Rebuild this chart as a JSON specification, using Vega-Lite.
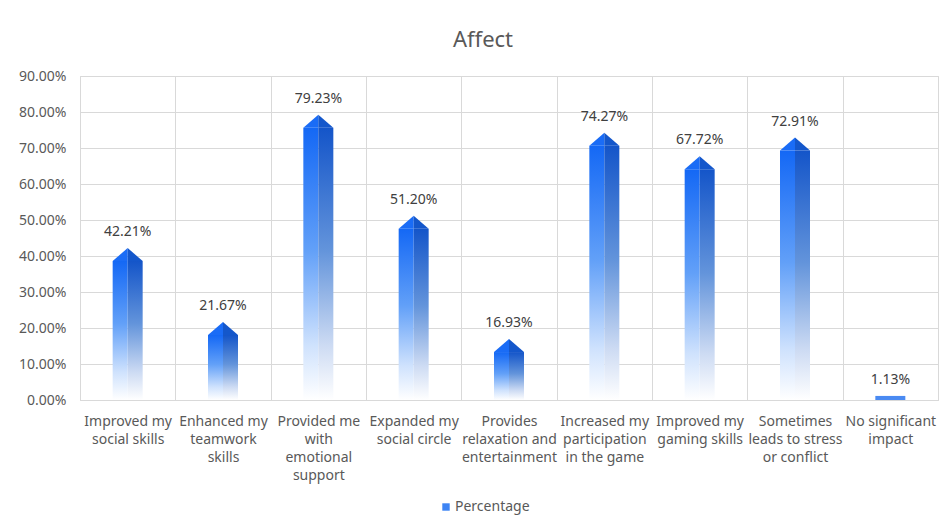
{
  "$schema": "https://vega.github.io/schema/vega-lite/v6.json",
  "autosize": "none",
  "width": 858,
  "height": 324,
  "padding": {"left": 80, "top": 76, "right": 14, "bottom": 126},
  "background": "white",
  "title": {"text": "Affect", "fontSize": 22, "font": "Noto Sans", "fontWeight": "normal", "color": "#595959", "offset": 17, "dx": -26, "anchor": "middle"},
  "config": {
    "view": {"stroke": "#d9d9d9"},
    "font": "Noto Sans",
    "axis": {"labelFont": "Noto Sans", "labelFontSize": 14, "labelColor": "#595959", "gridColor": "#d9d9d9", "domainColor": "#d9d9d9", "ticks": false, "title": null}
  },
  "data": {"values": [
    {"category": "Improved my|social skills", "value": 0.4221, "series": "Percentage"},
    {"category": "Enhanced my|teamwork|skills", "value": 0.2167, "series": "Percentage"},
    {"category": "Provided me|with|emotional|support", "value": 0.7923, "series": "Percentage"},
    {"category": "Expanded my|social circle", "value": 0.5120, "series": "Percentage"},
    {"category": "Provides|relaxation and|entertainment", "value": 0.1693, "series": "Percentage"},
    {"category": "Increased my|participation|in the game", "value": 0.7427, "series": "Percentage"},
    {"category": "Improved my|gaming skills", "value": 0.6772, "series": "Percentage"},
    {"category": "Sometimes|leads to stress|or conflict", "value": 0.7291, "series": "Percentage"},
    {"category": "No significant|impact", "value": 0.0113, "series": "Percentage"}
  ]},
  "encoding": {
    "x": {"field": "category", "type": "nominal", "sort": null,
      "scale": {"paddingInner": 0, "paddingOuter": 0},
      "axis": {"labelAngle": 0, "labelExpr": "split(datum.label, '|')", "labelLineHeight": 18, "labelPadding": 14, "grid": true, "tickBand": "extent", "labelBaseline": "top"}},
    "y": {"field": "value", "type": "quantitative", "stack": null,
      "scale": {"domain": [0, 0.9]},
      "axis": {"format": ".2%", "values": [0, 0.1, 0.2, 0.3, 0.4, 0.5, 0.6, 0.7, 0.8, 0.9], "labelPadding": 14, "domain": false}}
  },
  "layer": [
    {
      "transform": [{"filter": "datum.value > 0.05"}],
      "mark": {"type": "bar", "width": 15, "xOffset": -7.5, "yOffset": 13,
        "fill": {"gradient": "linear", "x1": 0, "y1": 0, "x2": 0, "y2": 1,
          "stops": [{"offset": 0, "color": "#1468f5"}, {"offset": 0.45, "color": "#62a0f8"}, {"offset": 0.8, "color": "#cfe2fd"}, {"offset": 1, "color": "#ffffff"}]}}
    },
    {
      "transform": [{"filter": "datum.value > 0.05"}],
      "mark": {"type": "bar", "width": 15, "xOffset": 7.5, "yOffset": 13,
        "fill": {"gradient": "linear", "x1": 0, "y1": 0, "x2": 0, "y2": 1,
          "stops": [{"offset": 0, "color": "#1455c9"}, {"offset": 0.45, "color": "#6394db"}, {"offset": 0.8, "color": "#cddbf3"}, {"offset": 1, "color": "#ffffff"}]}}
    },
    {
      "transform": [{"filter": "datum.value <= 0.05"}],
      "mark": {"type": "bar", "width": 30, "fill": "#4a8af2"}
    },
    {
      "transform": [{"filter": "datum.value > 0.05"}],
      "mark": {"type": "point", "filled": true, "shape": "M0,0 L0,0.867 L-1,0.867 Z", "size": 900, "fill": "#1a6cf6", "strokeWidth": 0, "opacity": 1}
    },
    {
      "transform": [{"filter": "datum.value > 0.05"}],
      "mark": {"type": "point", "filled": true, "shape": "M0,0 L1,0.867 L0,0.867 Z", "size": 900, "fill": "#1457cb", "strokeWidth": 0, "opacity": 1}
    },
    {
      "mark": {"type": "text", "dy": -12, "baseline": "alphabetic", "fontSize": 14, "font": "Noto Sans", "color": "#404040"},
      "encoding": {"text": {"field": "value", "type": "quantitative", "format": ".2%"}}
    },
    {
      "mark": {"type": "bar", "width": 30, "opacity": 0},
      "encoding": {
        "color": {"field": "series", "type": "nominal", "scale": {"range": ["#3d84f4"]},
          "legend": {"title": null, "orient": "none", "legendX": 359, "legendY": 424, "symbolType": "square", "symbolSize": 55, "symbolOpacity": 1, "labelFontSize": 14, "labelColor": "#595959", "labelFont": "Noto Sans", "labelOffset": 2}}
      }
    }
  ]
}
